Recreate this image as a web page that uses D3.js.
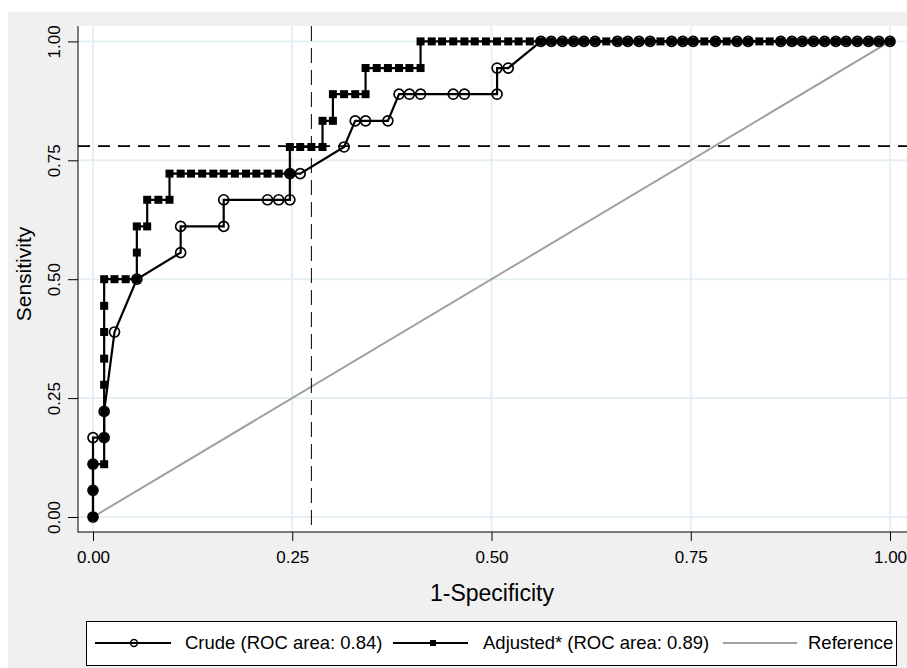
<!DOCTYPE html>
<html>
<head>
<meta charset="utf-8">
<script src="https://cdn.jsdelivr.net/npm/d3@7"></script>
<style>
  html, body { margin: 0; padding: 0; background: #fff; }
  svg { display: block; font-family: Arial, 'Liberation Sans', sans-serif; }
</style>
</head>
<body>
<div id="chart"></div>
<script>
// Tick values on both axes
const xTicks = [0, 0.25, 0.5, 0.75, 1];
const yTicks = [0, 0.25, 0.5, 0.75, 1];

// Crude model: 1-specificity / sensitivity pairs
const crudeFpr = [0, 0, 0, 0, 0.014, 0.014, 0.027, 0.055, 0.110, 0.110, 0.164, 0.164,
  0.219, 0.233, 0.247, 0.247, 0.260, 0.315, 0.329, 0.342, 0.370, 0.384, 0.397, 0.411,
  0.452, 0.466, 0.507, 0.507, 0.521, 0.562, 0.575, 0.589, 0.603, 0.616, 0.630, 0.658,
  0.671, 0.685, 0.699, 0.726, 0.740, 0.753, 0.781, 0.808, 0.822, 0.863, 0.877, 0.890,
  0.904, 0.918, 0.932, 0.945, 0.959, 0.973, 0.986, 1];
const crudeSens = [0, 0.056, 0.111, 0.167, 0.167, 0.222, 0.389, 0.5, 0.556, 0.611, 0.611, 0.667,
  0.667, 0.667, 0.667, 0.722, 0.722, 0.778, 0.833, 0.833, 0.833, 0.889, 0.889, 0.889,
  0.889, 0.889, 0.889, 0.944, 0.944, 1, 1, 1, 1, 1, 1, 1,
  1, 1, 1, 1, 1, 1, 1, 1, 1, 1, 1, 1,
  1, 1, 1, 1, 1, 1, 1, 1];

// Adjusted model
const adjustedFpr = [0, 0, 0, 0.014, 0.014, 0.014, 0.014, 0.014, 0.014, 0.014, 0.014,
  0.027, 0.041, 0.055, 0.055, 0.055, 0.068, 0.068, 0.082, 0.096, 0.096,
  0.110, 0.123, 0.137, 0.151, 0.164, 0.178, 0.192, 0.205, 0.219, 0.233, 0.247,
  0.247, 0.260, 0.274, 0.288, 0.288, 0.301, 0.301, 0.315, 0.329, 0.342,
  0.342, 0.356, 0.370, 0.384, 0.397, 0.411, 0.411,
  0.425, 0.438, 0.452, 0.466, 0.479, 0.493, 0.507, 0.521, 0.534, 0.548, 0.562,
  0.575, 0.589, 0.603, 0.616, 0.630, 0.644, 0.658, 0.671, 0.685, 0.699, 0.712,
  0.726, 0.740, 0.753, 0.767, 0.781, 0.795, 0.808, 0.822, 0.836, 0.849, 0.863,
  0.877, 0.890, 0.904, 0.918, 0.932, 0.945, 0.959, 0.973, 0.986, 1];
const adjustedSens = [0, 0.056, 0.111, 0.111, 0.167, 0.222, 0.278, 0.333, 0.389, 0.444, 0.5,
  0.5, 0.5, 0.5, 0.556, 0.611, 0.611, 0.667, 0.667, 0.667, 0.722,
  0.722, 0.722, 0.722, 0.722, 0.722, 0.722, 0.722, 0.722, 0.722, 0.722, 0.722,
  0.778, 0.778, 0.778, 0.778, 0.833, 0.833, 0.889, 0.889, 0.889, 0.889,
  0.944, 0.944, 0.944, 0.944, 0.944, 0.944, 1,
  1, 1, 1, 1, 1, 1, 1, 1, 1, 1, 1,
  1, 1, 1, 1, 1, 1, 1, 1, 1, 1, 1,
  1, 1, 1, 1, 1, 1, 1, 1, 1, 1, 1,
  1, 1, 1, 1, 1, 1, 1, 1, 1, 1];

// Cut-off reference lines
const cutoffFpr = 0.274;
const cutoffSens = 0.78;

const legendLabels = ['Crude (ROC area: 0.84)', 'Adjusted* (ROC area: 0.89)', 'Reference'];

const dimensions = { width: 907, height: 668 };
const plot = { left: 78, top: 26, right: 915, bottom: 532 };
const gridColor = '#e6eff3';

const svg = d3.select('#chart')
  .append('svg')
  .attr('width', dimensions.width)
  .attr('height', dimensions.height);

// grey graph region and white plot region
svg.append('rect')
  .attr('x', 8).attr('y', 12)
  .attr('width', dimensions.width).attr('height', dimensions.height)
  .attr('fill', '#f0f0f0');
svg.append('rect')
  .attr('x', plot.left).attr('y', plot.top)
  .attr('width', plot.right - plot.left).attr('height', plot.bottom - plot.top)
  .attr('fill', '#fff');

const x = d3.scaleLinear().domain([0, 1]).range([93, 890]);
const y = d3.scaleLinear().domain([0, 1]).range([517, 41.4]);

// grid lines
svg.append('g')
  .selectAll('line')
  .data(yTicks)
  .join('line')
  .attr('x1', plot.left).attr('x2', plot.right)
  .attr('y1', d => y(d)).attr('y2', d => y(d))
  .attr('stroke', gridColor).attr('stroke-width', 2);
svg.append('g')
  .selectAll('line')
  .data(xTicks)
  .join('line')
  .attr('x1', d => x(d)).attr('x2', d => x(d))
  .attr('y1', plot.top).attr('y2', plot.bottom)
  .attr('stroke', gridColor).attr('stroke-width', 2);

// axes
const yAxis = svg.append('g')
  .attr('transform', `translate(${plot.left},0)`)
  .call(d3.axisLeft(y).tickValues(yTicks).tickSize(10).tickSizeOuter(0).tickFormat(d3.format('.2f')))
  .attr('font-size', 17)
  .attr('font-family', 'Arial, Liberation Sans, sans-serif');
yAxis.select('.domain').remove();
yAxis.selectAll('line').attr('stroke', '#000');
yAxis.selectAll('text')
  .attr('transform', 'rotate(-90)')
  .attr('x', 0)
  .attr('y', -18)
  .attr('dy', 0)
  .attr('text-anchor', 'middle')
  .attr('fill', '#000');

const xAxis = svg.append('g')
  .attr('transform', `translate(0,${plot.bottom})`)
  .call(d3.axisBottom(x).tickValues(xTicks).tickSize(9).tickPadding(10).tickSizeOuter(0).tickFormat(d3.format('.2f')))
  .attr('font-size', 17)
  .attr('font-family', 'Arial, Liberation Sans, sans-serif');
xAxis.select('.domain').remove();
xAxis.selectAll('line').attr('stroke', '#000');
xAxis.selectAll('text').attr('fill', '#000');

svg.append('line')
  .attr('x1', plot.left).attr('x2', plot.left)
  .attr('y1', plot.top).attr('y2', plot.bottom + 0.5)
  .attr('stroke', '#000').attr('stroke-width', 1);
svg.append('line')
  .attr('x1', plot.left).attr('x2', plot.right)
  .attr('y1', plot.bottom).attr('y2', plot.bottom)
  .attr('stroke', '#000').attr('stroke-width', 1);

// axis titles
svg.append('text')
  .attr('x', 492).attr('y', 601)
  .attr('text-anchor', 'middle')
  .attr('font-size', 23)
  .text('1-Specificity');
svg.append('text')
  .attr('transform', 'translate(31,274) rotate(-90)')
  .attr('text-anchor', 'middle')
  .attr('font-size', 21)
  .text('Sensitivity');

// reference diagonal
svg.append('line')
  .attr('x1', x(0)).attr('y1', y(0))
  .attr('x2', x(1)).attr('y2', y(1))
  .attr('stroke', '#a0a0a0').attr('stroke-width', 2);

// cut-off lines
svg.append('line')
  .attr('x1', plot.left).attr('x2', plot.right)
  .attr('y1', y(cutoffSens)).attr('y2', y(cutoffSens))
  .attr('stroke', '#000').attr('stroke-width', 1.8)
  .attr('stroke-dasharray', '12,8');
svg.append('line')
  .attr('x1', x(cutoffFpr)).attr('x2', x(cutoffFpr))
  .attr('y1', plot.top).attr('y2', plot.bottom)
  .attr('stroke', '#000').attr('stroke-width', 1)
  .attr('stroke-dasharray', '15,7');

const line = d3.line().x(d => x(d[0])).y(d => y(d[1]));
const crude = d3.zip(crudeFpr, crudeSens);
const adjusted = d3.zip(adjustedFpr, adjustedSens);

// crude: hollow circles
svg.append('path')
  .datum(crude)
  .attr('d', line)
  .attr('fill', 'none').attr('stroke', '#000').attr('stroke-width', 2.2);
svg.append('g')
  .selectAll('circle')
  .data(crude)
  .join('circle')
  .attr('cx', d => x(d[0])).attr('cy', d => y(d[1]))
  .attr('r', 5)
  .attr('fill', 'none').attr('stroke', '#000').attr('stroke-width', 1.7);

// adjusted: filled squares
svg.append('path')
  .datum(adjusted)
  .attr('d', line)
  .attr('fill', 'none').attr('stroke', '#000').attr('stroke-width', 2.2);
svg.append('g')
  .selectAll('rect')
  .data(adjusted)
  .join('rect')
  .attr('x', d => x(d[0]) - 4).attr('y', d => y(d[1]) - 4)
  .attr('width', 8).attr('height', 8)
  .attr('fill', '#000');

// legend
const legend = svg.append('g');
legend.append('rect')
  .attr('x', 86.5).attr('y', 621.5)
  .attr('width', 810).attr('height', 44)
  .attr('fill', '#fff').attr('stroke', '#000').attr('stroke-width', 1);

const legendY = 643;
const legendItems = [
  { x1: 95, x2: 171, text: 185, color: '#000' },
  { x1: 393, x2: 468, text: 483, color: '#000' },
  { x1: 723, x2: 797, text: 808, color: '#a0a0a0' },
];
legendItems.forEach((item, i) => {
  legend.append('line')
    .attr('x1', item.x1).attr('x2', item.x2)
    .attr('y1', legendY).attr('y2', legendY)
    .attr('stroke', item.color).attr('stroke-width', 2);
  legend.append('text')
    .attr('x', item.text).attr('y', legendY)
    .attr('dy', '0.35em')
    .attr('font-size', 18.5)
    .text(legendLabels[i]);
});
legend.append('circle')
  .attr('cx', 134).attr('cy', legendY).attr('r', 3.4)
  .attr('fill', 'none').attr('stroke', '#000').attr('stroke-width', 1.5);
legend.append('rect')
  .attr('x', 430).attr('y', legendY - 3)
  .attr('width', 6).attr('height', 6)
  .attr('fill', '#000');
</script>
</body>
</html>
